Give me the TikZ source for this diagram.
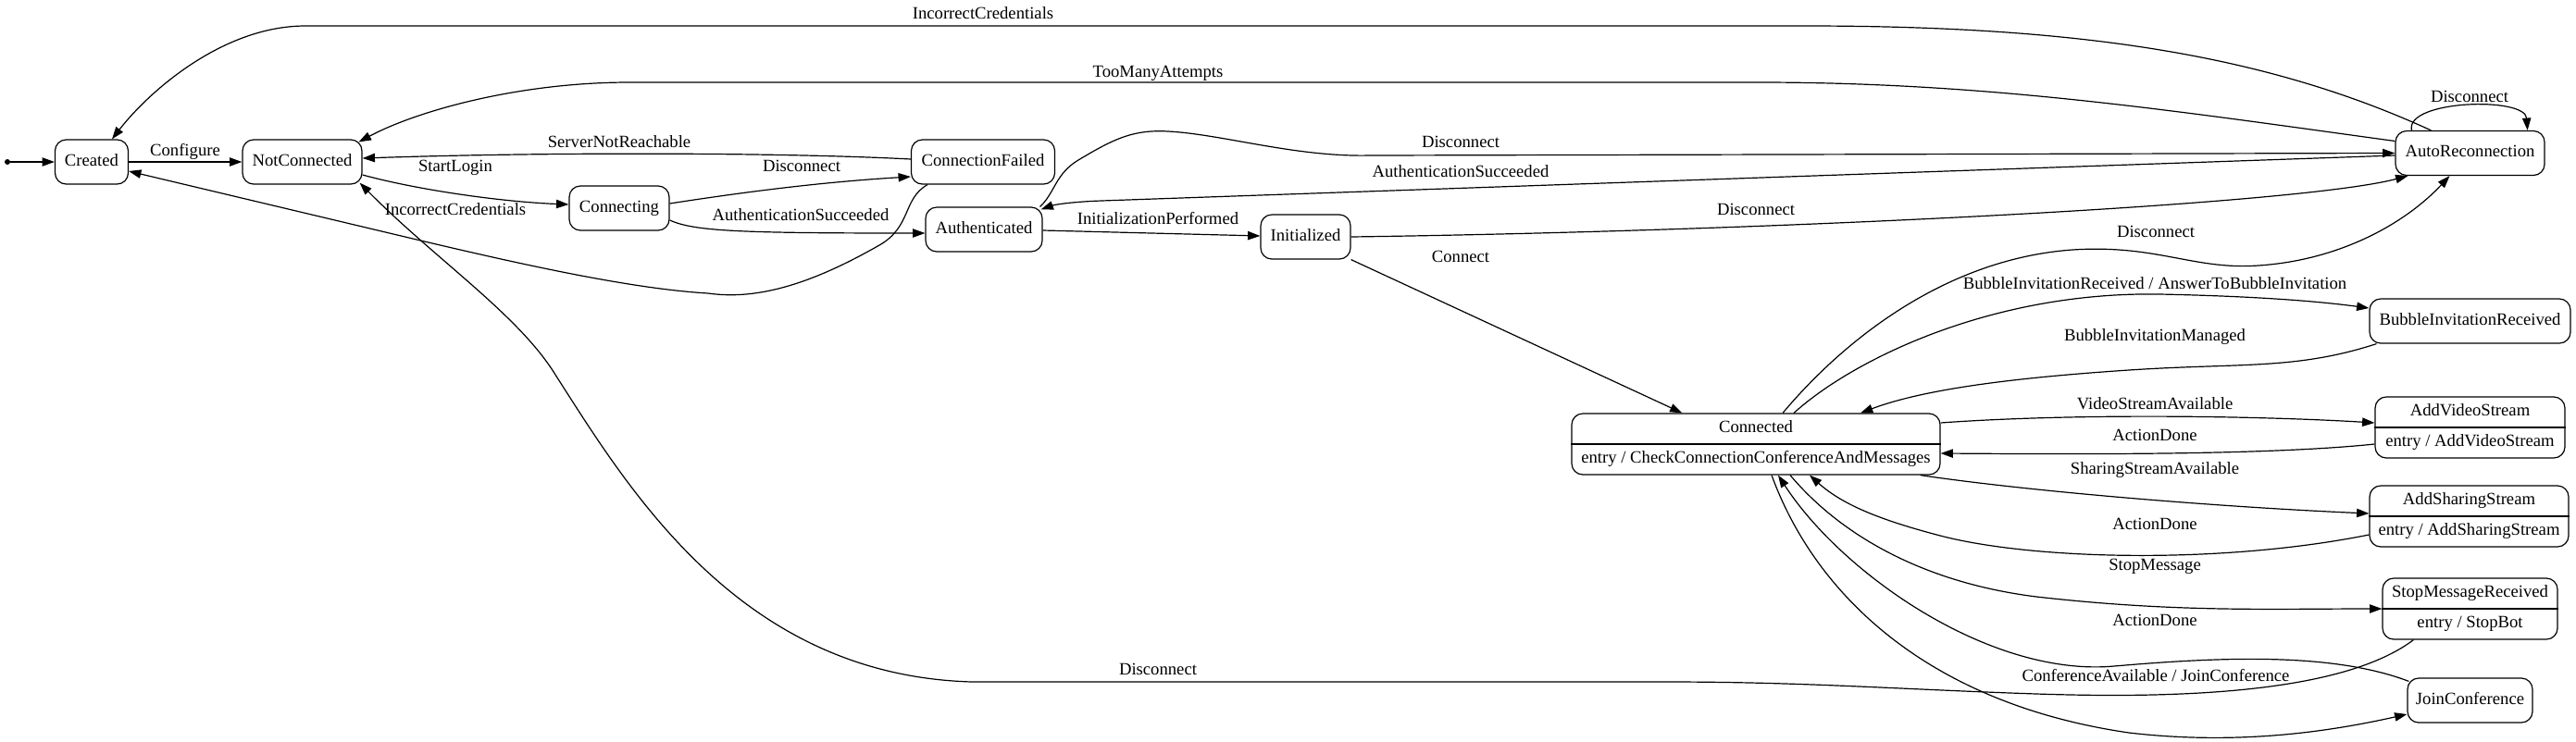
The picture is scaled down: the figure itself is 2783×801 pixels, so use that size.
\documentclass[tikz,border=0pt]{standalone}
\usepackage{fontspec}
\setmainfont{Liberation Serif}
\usetikzlibrary{arrows.meta,calc}
\begin{document}
\begin{tikzpicture}[x=0.75pt,y=-0.75pt,
  every node/.style={font=\fontsize{14pt}{16.8pt}\selectfont},
  txt/.style={inner sep=0pt, text height=9.5pt, text depth=3pt},
  st/.style={draw, line width=0.9pt, rounded corners=9pt, inner sep=0pt, text height=9.5pt, text depth=3pt, minimum height=36pt},
  rec/.style={st, minimum height=49.5pt},
  e/.style={line width=0.9pt, -{Triangle[length=10pt,width=7pt]}},
  lbl/.style={txt}]
\useasboundingbox (0,0) rectangle (2783,801);

% states
\node[circle, fill, inner sep=0pt, minimum size=4.5pt] (start) at (8,175) {};
\node[st, minimum width=59.25pt] (created) at (99,175) {Created};
\node[st, minimum width=96.75pt] (nc) at (326.5,175) {NotConnected};
\node[st, minimum width=81pt] (cng) at (669,225) {Connecting};
\node[st, minimum width=116.25pt] (cf) at (1062,175) {ConnectionFailed};
\node[st, minimum width=94.5pt] (auth) at (1063,248) {Authenticated};
\node[st, minimum width=72.75pt] (ini) at (1410.5,256) {Initialized};
\node[st, minimum width=120.75pt] (ar) at (2668.5,165.5) {AutoReconnection};
\node[st, minimum width=162.75pt] (bir) at (2668.5,347) {BubbleInvitationReceived};
\node[rec, minimum width=298.5pt] (conn) at (1897,480) {};
\node[rec, minimum width=153.75pt] (avs) at (2668.5,462) {};
\node[rec, minimum width=161.25pt] (ass) at (2667.5,558) {};
\node[rec, minimum width=141.75pt] (smr) at (2668.5,658) {};
\node[st, minimum width=101.25pt] (jc) at (2668.5,757) {JoinConference};

% record compartments
\draw[line width=0.9pt] (conn.west) -- (conn.east);
\node[txt] (conn-t) at ($(conn.center)+(0,-16.5)$) {Connected};
\node[txt] (conn-b) at ($(conn.center)+(0,16.5)$) {entry / CheckConnectionConferenceAndMessages};
\draw[line width=0.9pt] (avs.west) -- (avs.east);
\node[txt] (avs-t) at ($(avs.center)+(0,-16.5)$) {AddVideoStream};
\node[txt] (avs-b) at ($(avs.center)+(0,16.5)$) {entry / AddVideoStream};
\draw[line width=0.9pt] (ass.west) -- (ass.east);
\node[txt] (ass-t) at ($(ass.center)+(0,-16.5)$) {AddSharingStream};
\node[txt] (ass-b) at ($(ass.center)+(0,16.5)$) {entry / AddSharingStream};
\draw[line width=0.9pt] (smr.west) -- (smr.east);
\node[txt] (smr-t) at ($(smr.center)+(0,-16.5)$) {StopMessageReceived};
\node[txt] (smr-b) at ($(smr.center)+(0,16.5)$) {entry / StopBot};

% transitions
\draw[e] (start) -- (created);
\draw[e] (created) -- (nc);
\draw[e] ($(nc.east)+(0,14)$) .. controls (450,205) and (540,218) .. ($(cng.west)+(0,-4)$);
\draw[e] ($(cf.west)+(0,-3)$) .. controls (850,165) and (600,164) .. ($(nc.east)+(0,-4)$);
\draw[e] ($(cng.east)+(0,-5)$) .. controls (820,205) and (900,196) .. ($(cf.west)+(0,16)$);
\draw[e] ($(cng.east)+(0,13)$) .. controls (750,250) and (800,252) .. ($(auth.west)+(0,4)$);
\draw[e] ($(cf.south)+(-60,0)$) .. controls (975,215) and (985,245) .. (950,265)
   .. controls (880,305) and (820,325) .. (765,317)
   .. controls (680,312) and (560,285) .. (446,258) -- ($(created.east)+(0,10)$);
\draw[e] ($(auth.north east)+(-3,0)$) .. controls (1140,208) and (1140,188) .. (1165,173)
   .. controls (1205,149) and (1225,140) .. (1262,142)
   .. controls (1320,145) and (1400,170) .. (1480,168) -- (ar.west);
\draw[e] ($(ar.west)+(0,2.5)$) -- (1190,217) .. controls (1160,218) and (1140,221) .. ($(auth.north east)+(-2,3)$);
\draw[e] ($(auth.east)+(0,1)$) -- ($(ini.west)+(0,-1)$);
\draw[e] (ini.east) .. controls (1900,250) and (2480,222) .. ($(ar.south west)+(14,0)$);
\draw[e] (ini.south east) -- ($(conn.north west)+(120,0)$);
\draw[e] ($(ar.north west)+(18,0)$) .. controls (2598,108) and (2728,104) .. ($(ar.north east)+(-19,0)$);
\draw[e] ($(ar.north west)+(39,0)$) .. controls (2450,60) and (2250,28) .. (1950,28) -- (330,28)
   .. controls (240,28) and (160,100) .. ($(created.north)+(22,0)$);
\draw[e] ($(ar.west)+(0,-13)$) .. controls (2350,120) and (2150,89) .. (1900,89) -- (680,89)
   .. controls (560,89) and (450,120) .. ($(nc.north east)+(-4,3)$);
\draw[e] ($(smr.south west)+(34,0)$) .. controls (2530,750) and (2350,755) .. (2200,750)
   .. controls (2050,745) and (1950,737) .. (1800,737) -- (1050,737)
   .. controls (800,730) and (680,530) .. (600,405)
   .. controls (560,340) and (470,280) .. ($(nc.south east)+(-3,-2)$);
\draw[e] ($(conn.north)+(29,0)$) .. controls (1990,370) and (2100,280) .. (2239,270)
   .. controls (2330,264) and (2370,292) .. (2440,287)
   .. controls (2530,281) and (2600,240) .. ($(ar.south)+(-22,0)$);
\draw[e] ($(conn.north)+(41,0)$) .. controls (2000,390) and (2150,315) .. (2333,318)
   .. controls (2430,320) and (2500,325) .. ($(bir.west)+(0,-14)$);
\draw[e] ($(bir.south west)+(8,0)$) .. controls (2480,400) and (2420,392) .. (2300,400)
   .. controls (2180,408) and (2080,420) .. ($(conn.north)+(113,0)$);
\draw[e] ($(conn.east)+(0,-23)$) .. controls (2250,446) and (2450,450) .. ($(avs.west)+(0,-5)$);
\draw[e] ($(avs.west)+(0,18)$) .. controls (2450,492) and (2250,491) .. ($(conn.east)+(0,10)$);
\draw[e] ($(conn.south east)+(-22,0)$) .. controls (2200,532) and (2400,548) .. ($(ass.west)+(0,-3)$);
\draw[e] ($(ass.west)+(0,20)$) .. controls (2400,610) and (2200,605) .. (2100,580)
   .. controls (2030,562) and (1990,545) .. ($(conn.south)+(58,0)$);
\draw[e] ($(conn.south)+(37,0)$) .. controls (1990,580) and (2080,630) .. (2200,645)
   .. controls (2350,662) and (2450,658) .. (smr.west);
\draw[e] ($(jc.north west)+(2,4)$) .. controls (2520,705) and (2400,710) .. (2284,720)
   .. controls (2150,732) and (1990,620) .. ($(conn.south)+(24,0)$);
\draw[e] ($(conn.south)+(17,0)$) .. controls (1960,640) and (2080,760) .. (2300,792)
   .. controls (2420,806) and (2520,790) .. ($(jc.west)+(0,15)$);

% labels
\node[lbl] (l1) at (200,164) {Configure};
\node[lbl] (l2) at (492,181) {StartLogin};
\node[lbl] (l3) at (669,155) {ServerNotReachable};
\node[lbl] (l4) at (866,181) {Disconnect};
\node[lbl] (l5) at (492,228) {IncorrectCredentials};
\node[lbl] (l6) at (865,234) {AuthenticationSucceeded};
\node[lbl] (l7) at (1062,16) {IncorrectCredentials};
\node[lbl] (l8) at (1251,79) {TooManyAttempts};
\node[lbl] (l9) at (1578,155) {Disconnect};
\node[lbl] (l10) at (1578,187) {AuthenticationSucceeded};
\node[lbl] (l11) at (1251,238) {InitializationPerformed};
\node[lbl] (l12) at (1578,279) {Connect};
\node[lbl] (l13) at (1897,228) {Disconnect};
\node[lbl] (l14) at (2668,106) {Disconnect};
\node[lbl] (l15) at (2329,252) {Disconnect};
\node[lbl] (l16) at (2328,308) {BubbleInvitationReceived / AnswerToBubbleInvitation};
\node[lbl] (l17) at (2328,364) {BubbleInvitationManaged};
\node[lbl] (l18) at (2328,438) {VideoStreamAvailable};
\node[lbl] (l19) at (2328,472) {ActionDone};
\node[lbl] (l20) at (2328,508) {SharingStreamAvailable};
\node[lbl] (l21) at (2328,568) {ActionDone};
\node[lbl] (l22) at (2328,612) {StopMessage};
\node[lbl] (l23) at (2328,672) {ActionDone};
\node[lbl] (l24) at (2329,732) {ConferenceAvailable / JoinConference};
\node[lbl] (l25) at (1251,725) {Disconnect};
\end{tikzpicture}
\end{document}
